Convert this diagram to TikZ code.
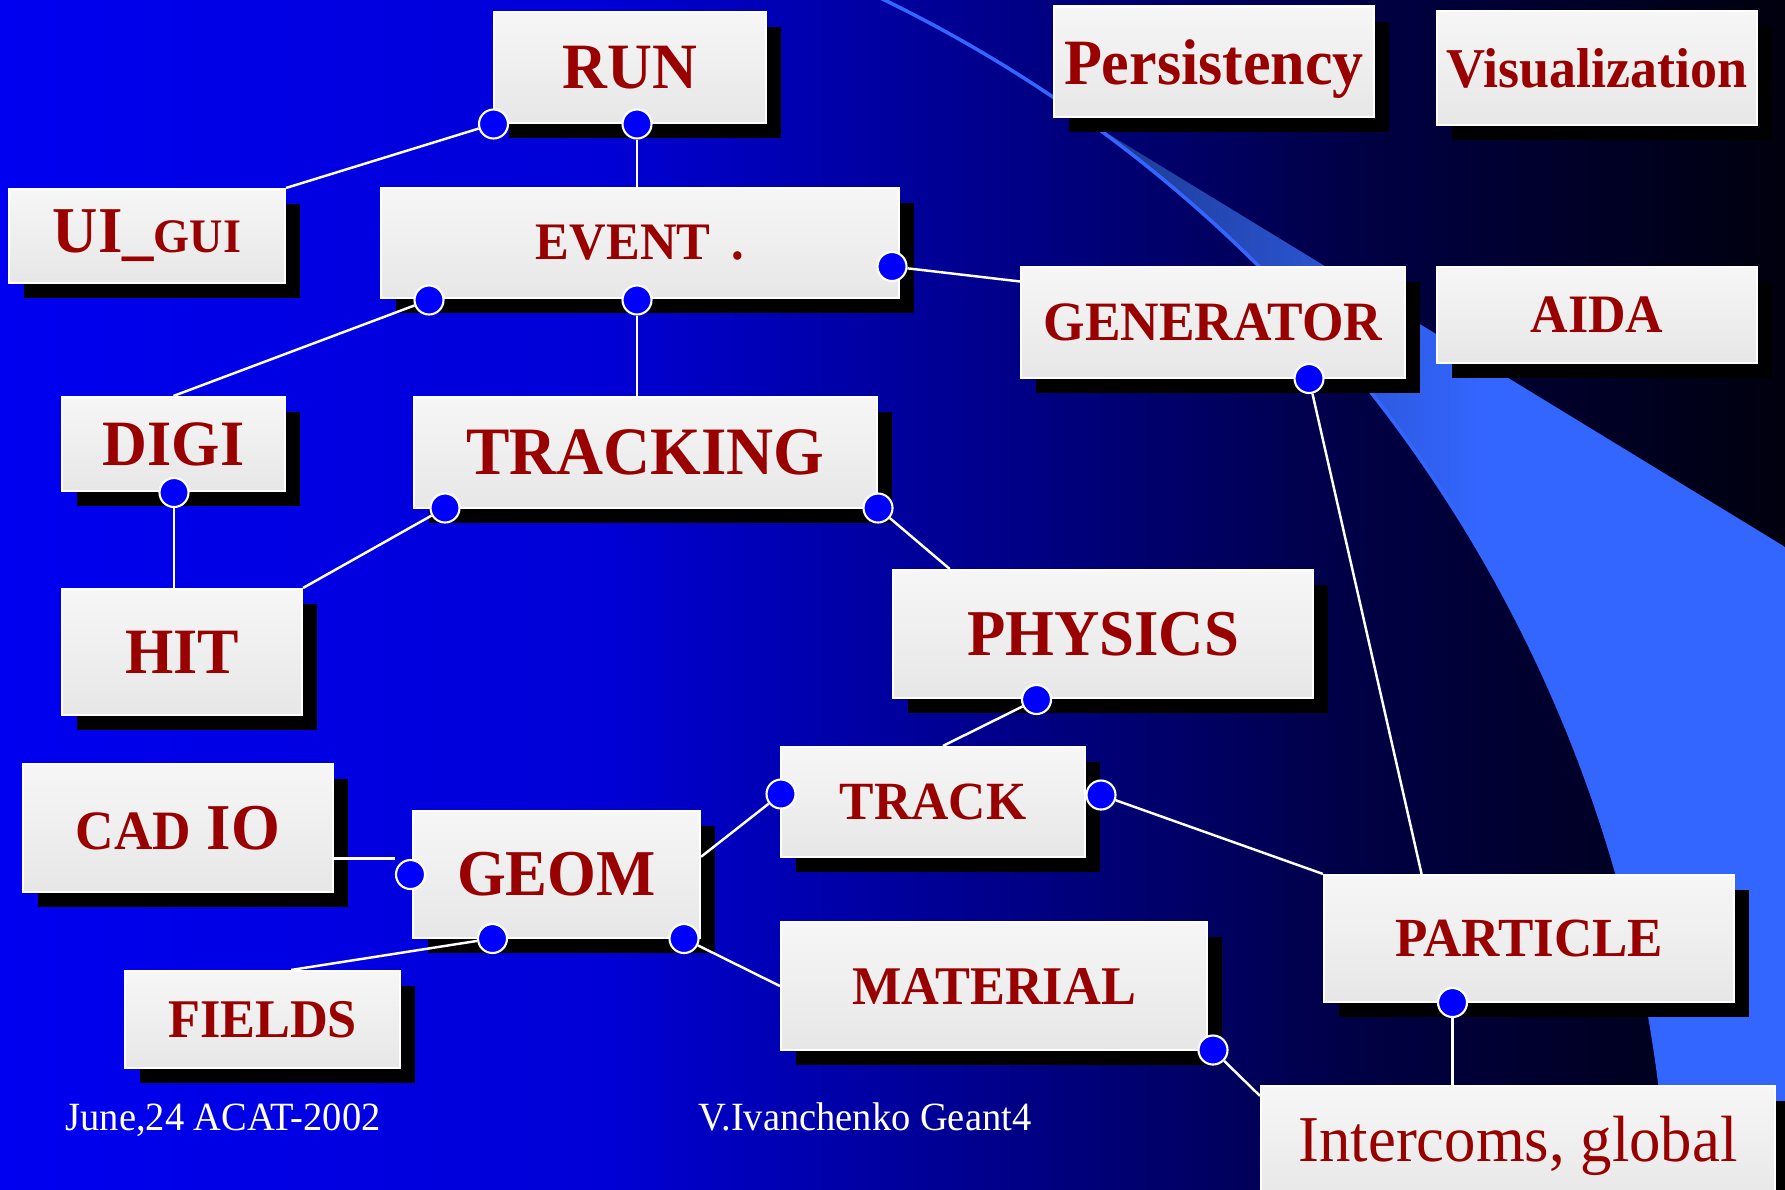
\documentclass[tikz,border=0pt]{standalone}
\usepackage{fontspec}
\setmainfont{Liberation Serif}[FakeStretch=0.96]
\usetikzlibrary{shadows,positioning}
\definecolor{bgA}{RGB}{0,0,240}
\definecolor{bgB}{RGB}{0,0,214}
\definecolor{bgC}{RGB}{0,0,70}
\definecolor{bgD}{RGB}{0,0,14}
\definecolor{arcblue}{RGB}{51,102,255}
\definecolor{wedgeA}{RGB}{28,56,140}
\definecolor{lblred}{RGB}{153,0,0}
\definecolor{dotblue}{RGB}{0,0,255}
\tikzset
{
    block/.style  = {rectangle, draw=white, line width=0.6pt, top color=gray!7, bottom color=gray!19, text=lblred, inner sep=0pt, align=center, drop shadow={shadow xshift=0.15cm, shadow yshift=-0.15cm, fill=black, opacity=1}},
    big/.style    = {font=\fontsize{#1}{#1}\selectfont\bfseries},
    dot/.style    = {circle, fill=dotblue, draw=white, line width=0.6pt, minimum size=0.29cm, inner sep=0pt},
    link/.style   = {draw=white, line width=0.7pt},
    footer/.style = {text=white, font=\fontsize{11.4}{11.4}\selectfont, anchor=base west, inner sep=0pt}
}

\begin{document}
\begin{tikzpicture}
	\useasboundingbox (0,0) rectangle (17.85,-11.89);
	\shade [left color=bgA, right color=bgB] (0,0) rectangle (6.02,-11.89);
	\shade [left color=bgB, right color=bgC] (6,0) rectangle (13.52,-11.89);
	\shade [left color=bgC, right color=bgD] (13.5,0) rectangle (17.85,-11.89);

	\begin{scope}
	\clip (16.698,-13.064) arc[start angle=-2, end angle=54.3, radius=13.99] -- (17.9,-5.50) -- (17.9,-13.1) -- cycle;
	\shade [left color=wedgeA, right color=arcblue] (10.8,0) rectangle (14.8,-13.2);
	\fill [arcblue] (14.79,0) rectangle (17.9,-13.2);
	\end{scope}
	\draw [arcblue, line width=1pt] (8.407,0.204) arc[start angle=66, end angle=-2, radius=13.99];

	\node (run) [block, big=18.4, minimum width=2.72cm, minimum height=1.11cm] at (6.30,-0.675) {RUN};
	\node (pers) [block, big=18.4, text depth=0pt, minimum width=3.20cm, minimum height=1.105cm] at (12.14,-0.6175) {Persistency};
	\node (vis) [block, big=16, minimum width=3.20cm, minimum height=1.14cm] at (15.97,-0.68) {Visualization};
	\node (ui) [block, big=18.6, minimum width=2.76cm, minimum height=0.94cm] at (1.47,-2.36) {UI\_{\fontsize{13.7}{13.7}\selectfont GUI}};
	\node (event) [block, big=15, minimum width=5.18cm, minimum height=1.10cm] at (6.40,-2.43) {EVENT\hspace{0.4em}.};
	\node (gen) [block, big=15.8, minimum width=3.84cm, minimum height=1.11cm] at (12.13,-3.225) {GENERATOR};
	\node (aida) [block, big=15.4, minimum width=3.20cm, minimum height=0.96cm] at (15.97,-3.15) {AIDA};
	\node (digi) [block, big=18.4, minimum width=2.23cm, minimum height=0.94cm] at (1.735,-4.44) {DIGI};
	\node (tracking) [block, big=19.3, minimum width=4.63cm, minimum height=1.11cm] at (6.455,-4.525) {TRACKING};
	\node (hit) [block, big=18.4, minimum width=2.40cm, minimum height=1.26cm] at (1.82,-6.52) {HIT};
	\node (phys) [block, big=18.6, minimum width=4.20cm, minimum height=1.28cm] at (11.03,-6.34) {PHYSICS};
	\node (track) [block, big=15.3, minimum width=3.04cm, minimum height=1.10cm] at (9.33,-8.02) {TRACK};
	\node (cad) [block, big=18.6, minimum width=3.10cm, minimum height=1.28cm] at (1.78,-8.28) {{\fontsize{15.8}{15.8}\selectfont CAD} IO};
	\node (geom) [block, big=18.6, minimum width=2.87cm, minimum height=1.27cm] at (5.565,-8.745) {GEOM};
	\node (fields) [block, big=15.5, minimum width=2.75cm, minimum height=0.97cm] at (2.625,-10.195) {FIELDS};
	\node (mat) [block, big=15.5, minimum width=4.26cm, minimum height=1.28cm] at (9.94,-9.86) {MATERIAL};
	\node (part) [block, big=15.7, minimum width=4.10cm, minimum height=1.27cm] at (15.29,-9.385) {PARTICLE};
	\node (inter) [block, font=\fontsize{18.6}{18.6}\selectfont, minimum width=5.14cm, minimum height=1.20cm] at (15.18,-11.46) {Intercoms, global};

	\node (runL) [dot] at (4.935,-1.24) {};
	\node (runB) [dot] at (6.37,-1.24) {};
	\node (evL) [dot] at (4.29,-3.00) {};
	\node (evB) [dot] at (6.37,-3.00) {};
	\node (evR) [dot] at (8.92,-2.665) {};
	\node (genB) [dot] at (13.09,-3.785) {};
	\node (digiB) [dot] at (1.74,-4.925) {};
	\node (trkL) [dot] at (4.45,-5.08) {};
	\node (trkR) [dot] at (8.78,-5.08) {};
	\node (physB) [dot] at (10.365,-6.995) {};
	\node (trackL) [dot] at (7.81,-7.94) {};
	\node (trackR) [dot] at (11.01,-7.95) {};
	\node (geomL) [dot] at (4.105,-8.745) {};
	\node (geomB) [dot] at (4.925,-9.385) {};
	\node (geomR) [dot] at (6.84,-9.385) {};
	\node (matR) [dot] at (12.13,-10.50) {};
	\node (partB) [dot] at (14.525,-10.025) {};

	\draw [link] (runL) -- (ui.north east);
	\draw [link] (runB) -- (runB |- event.north);
	\draw [link] (evL) -- (digi.north);
	\draw [link] (evB) -- (evB |- tracking.north);
	\draw [link] (evR) -- (gen.168);
	\draw [link] (genB) -- (part.149);
	\draw [link] (digiB) -- (digiB |- hit.north);
	\draw [link] (trkL) -- (hit.north east);
	\draw [link] (trkR) -- (phys.157);
	\draw [link] (physB) -- (track.80);
	\draw [link] (trackL) -- (geom.7);
	\draw [link] (trackR) -- (part.north west);
	\draw [link] (cad.349) -- (cad.349 -| geomL.west);
	\draw [link] (geomB) -- (fields.60);
	\draw [link] (geomR) -- (mat.west);
	\draw [link] (matR) -- (inter.169);
	\draw [link] (partB) -- (partB |- inter.north);

	\node (date) [footer] at (0.65,-11.30) {June,24 ACAT-2002};
	\node (author) [footer] at (6.98,-11.30) {V.Ivanchenko Geant4};

	\end{tikzpicture}
\end{document}
